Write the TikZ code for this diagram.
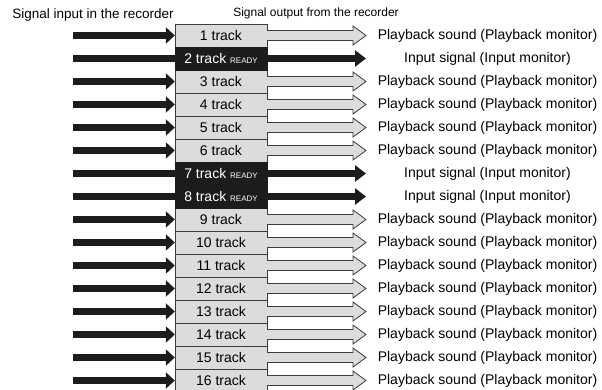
\documentclass[tikz,border=0pt]{standalone}
\usepackage{fontspec}
\setmainfont{Liberation Sans}
\usetikzlibrary{arrows.meta, calc}
\definecolor{trackgray}{RGB}{220,220,220}
\definecolor{edgegray}{RGB}{60,60,60}
\definecolor{signalblack}{RGB}{28,28,28}
\newcommand{\readytag}{{\fontsize{8}{8}\selectfont READY}}

\begin{document}
\begin{tikzpicture}[x=1pt, y=-1pt,
    track/.style={draw=edgegray, fill=trackgray, minimum width=92pt, minimum height=23pt, inner sep=0pt, font=\fontsize{14}{16}\selectfont},
    readytrack/.style={track, fill=signalblack, draw=signalblack, text=white},
    inarrow/.style={draw=signalblack, line width=7pt, -{Triangle[length=9pt, width=16pt]}},
    outarrow/.style={draw=edgegray, fill=trackgray, line width=0.8pt, line join=miter},
    monitor/.style={font=\fontsize{14}{16}\selectfont},
    header/.style={font=\fontsize{13.5}{15}\selectfont}
]
    \useasboundingbox (0,0) rectangle (602,390);

    % Headings
    \node[header] (inhead) at (93,15.5) {Signal input in the recorder};
    \node[header, font=\fontsize{12}{14}\selectfont] (outhead) at (316,13) {Signal output from the recorder};

    % Free ends of the arrows
    \foreach \i in {1,...,16} {
        \pgfmathsetmacro{\ypos}{35.5+(\i-1)*23}
        \coordinate (in\i) at (73,\ypos);
        \coordinate (out\i) at (366,\ypos);
    }

    % Tracks in playback
    \foreach \i in {1,3,4,5,6,9,10,11,12,13,14,15,16} {
        \pgfmathsetmacro{\ypos}{35.5+(\i-1)*23}
        \node[track] (track\i) at (221,\ypos) {\i\ track};
        \draw[inarrow] (in\i) -- (track\i.west);
        \draw[outarrow] ($(track\i.east)+(0,-5)$) -- ($(out\i)+(-13,-5)$) -- ($(out\i)+(-13,-9.5)$)
            -- (out\i) -- ($(out\i)+(-13,9.5)$) -- ($(out\i)+(-13,5)$) -- ($(track\i.east)+(0,5)$);
        \node[monitor] (mon\i) at (487.5,\ypos) {Playback sound (Playback monitor)};
    }

    % Tracks set to READY
    \foreach \i in {2,7,8} {
        \pgfmathsetmacro{\ypos}{35.5+(\i-1)*23}
        \draw[inarrow, -{Triangle[length=11pt, width=16pt]}] (in\i) -- (out\i);
        \node[readytrack] (track\i) at (221,\ypos) {\i\ track \readytag};
        \node[monitor] (mon\i) at (487.5,\ypos) {Input signal (Input monitor)};
    }
\end{tikzpicture}
\end{document}
